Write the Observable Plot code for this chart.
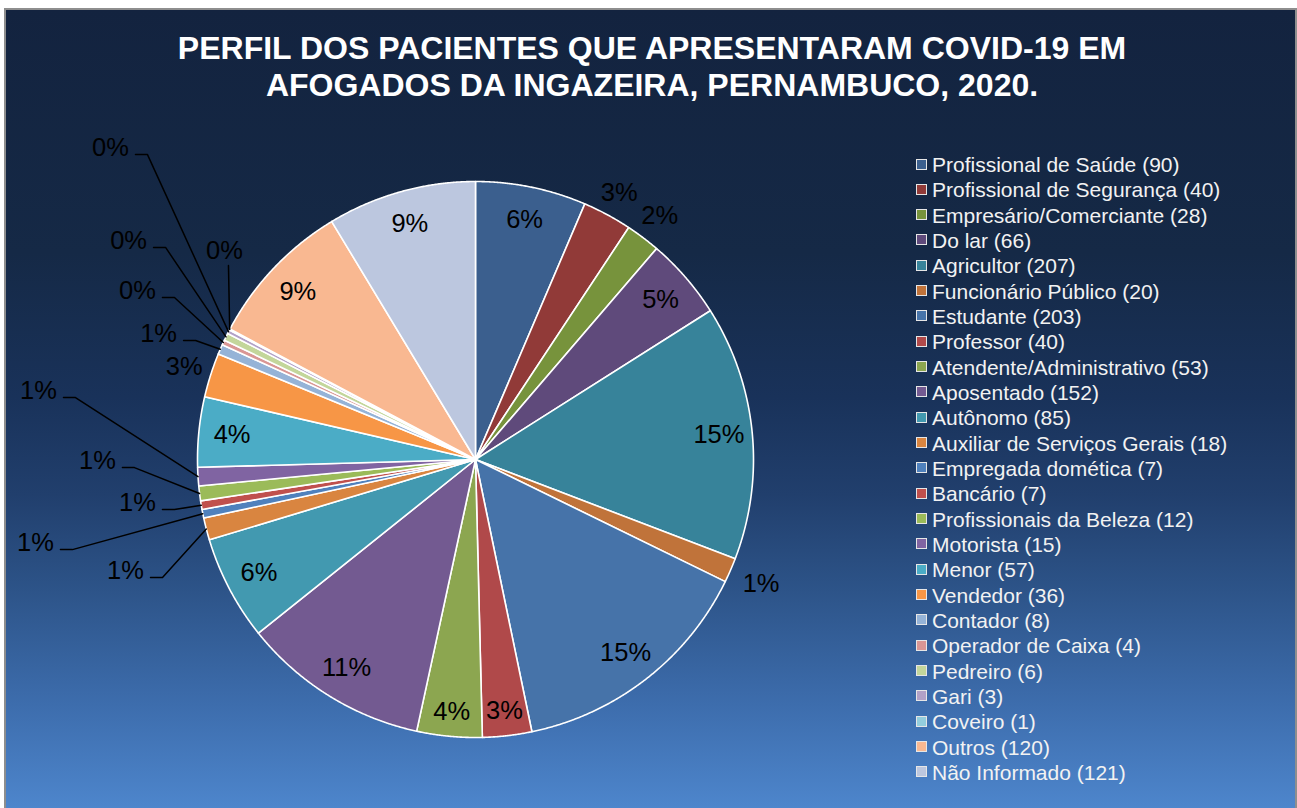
<!DOCTYPE html>
<html>
<head>
<meta charset="utf-8">
<script src="https://cdn.jsdelivr.net/npm/d3@7"></script>
<script src="https://cdn.jsdelivr.net/npm/@observablehq/plot@0.6"></script>
<style>
html, body { margin: 0; padding: 0; overflow: hidden; width: 1297px; height: 808px; background: #ffffff;
  font-family: "Liberation Sans", Arial, sans-serif; }
#frame { position: absolute; left: 4px; top: 8px; width: 1293px; height: 812px; box-sizing: border-box;
  border: 2px solid #8e8e8e;
  background: linear-gradient(to bottom, #13233f 0%, #152946 30%, #19325a 48%, #213f6d 60%, #2d5489 72%, #3d6dad 86%, #4f88cf 100%); }
#title { position: absolute; left: 0; top: 30.3px; width: 1304px; text-align: center; color: #ffffff;
  font-weight: bold; font-size: 32px; line-height: 37px; white-space: nowrap; }
#chart { position: absolute; left: 0; top: 0; }
#legend { position: absolute; left: 916px; top: 152px; color: #f2f2f2; font-size: 21px; }
#legend .row { position: relative; height: 25.33px; line-height: 25.33px; padding-left: 16px; white-space: nowrap; }
#legend .sw { position: absolute; left: 0; top: 6.5px; width: 9px; height: 9px; border: 1px solid #e6e6e6; }
</style>
</head>
<body>
<div id="frame"></div>
<div id="chart"></div>
<div id="title">PERFIL DOS PACIENTES QUE APRESENTARAM COVID-19 EM<br>AFOGADOS DA INGAZEIRA, PERNAMBUCO, 2020.</div>
<div id="legend"></div>
<script>
// ---- Data ----
const categories = [
  "Profissional de Saúde", "Profissional de Segurança", "Empresário/Comerciante", "Do lar",
  "Agricultor", "Funcionário Público", "Estudante", "Professor", "Atendente/Administrativo",
  "Aposentado", "Autônomo", "Auxiliar de Serviços Gerais", "Empregada domética", "Bancário",
  "Profissionais da Beleza", "Motorista", "Menor", "Vendedor", "Contador", "Operador de Caixa",
  "Pedreiro", "Gari", "Coveiro", "Outros", "Não Informado"
];
const counts = [90, 40, 28, 66, 207, 20, 203, 40, 53, 152, 85, 18, 7, 7, 12, 15, 57, 36, 8, 4, 6, 3, 1, 120, 121];

// ---- Styles ----
const palette = [
  "#3b5f8e", "#913a38", "#77933c", "#5f4a7b", "#37839a", "#c0733a",
  "#4673a9", "#b0494a", "#8ca650", "#735a91", "#4299b0", "#d98540",
  "#4f81bd", "#c0504d", "#9bbb59", "#8064a2", "#4bacc6", "#f79646",
  "#95b3d7", "#d99694", "#c3d69b", "#b2a1c7", "#93cddd", "#f9b891", "#bcc7df"
];

// ---- Label layout (in pie-radius units) ----
const R = 278; // pie radius in px (used for small pixel offsets)
const radialLabel = {
  "Profissional de Segurança": 1.09, "Empresário/Comerciante": 1.10, "Funcionário Público": 1.12,
  "Professor": 0.91, "Atendente/Administrativo": 0.91, "Vendedor": 1.10
};
const callouts = {
  "Auxiliar de Serviços Gerais": [-1.259, -0.399],
  "Empregada domética": [-1.583, -0.299],
  "Bancário": [-1.216, -0.155],
  "Profissionais da Beleza": [-1.360, -0.004],
  "Motorista": [-1.572, 0.248],
  "Contador": [-1.140, 0.453],
  "Operador de Caixa": [-1.216, 0.608],
  "Pedreiro": [-1.248, 0.788],
  "Gari": [-1.313, 1.122],
  "Coveiro": [-0.903, 0.752]
};
const verticalCallout = new Set(["Coveiro"]);

// ---- Geometry ----
const total = d3.sum(counts);
const TAU = 2 * Math.PI;
let cum = 0;
const slices = categories.map((cat, i) => {
  const a0 = cum / total * TAU;
  cum += counts[i];
  const a1 = cum / total * TAU;
  return { cat, a0, a1, mid: (a0 + a1) / 2, pct: Math.round(counts[i] / total * 100) + "%" };
});

const slicePts = slices.flatMap(s => {
  const n = Math.max(2, Math.ceil((s.a1 - s.a0) / 0.004));
  const pts = [{ cat: s.cat, x: 0, y: 0 }];
  for (let k = 0; k <= n; k++) {
    const a = s.a0 + (s.a1 - s.a0) * k / n;
    pts.push({ cat: s.cat, x: Math.sin(a), y: Math.cos(a) });
  }
  pts.push({ cat: s.cat, x: 0, y: 0 });
  return pts;
});

const labels = slices.map(s => {
  if (callouts[s.cat]) {
    const [x, y] = callouts[s.cat];
    return { cat: s.cat, x, y, pct: s.pct };
  }
  const r = radialLabel[s.cat] ?? 0.88;
  return { cat: s.cat, x: r * Math.sin(s.mid), y: r * Math.cos(s.mid), pct: s.pct };
});

const leaderPts = slices.filter(s => callouts[s.cat]).flatMap(s => {
  const [lx, ly] = callouts[s.cat];
  const edge = { cat: s.cat, x: Math.sin(s.mid), y: Math.cos(s.mid) };
  if (verticalCallout.has(s.cat)) {
    return [{ cat: s.cat, x: lx + 4 / R, y: ly - 15 / R }, edge];
  }
  return [
    { cat: s.cat, x: lx + 25 / R, y: ly - 7 / R },
    { cat: s.cat, x: lx + 37 / R, y: ly - 7 / R },
    edge
  ];
});

const chart = Plot.plot({
  width: 900,
  height: 808,
  marginLeft: 197, marginRight: 147, marginTop: 181, marginBottom: 71,
  x: { domain: [-1, 1], axis: null },
  y: { domain: [-1, 1], axis: null },
  color: { domain: categories, range: palette },
  style: { background: "transparent", overflow: "visible", fontFamily: "'Liberation Sans', Arial, sans-serif" },
  marks: [
    Plot.line(slicePts, { x: "x", y: "y", z: "cat", fill: "cat", stroke: "white", strokeWidth: 1.6, strokeLinejoin: "round" }),
    Plot.line(leaderPts, { x: "x", y: "y", z: "cat", stroke: "black", strokeWidth: 1.5 }),
    Plot.text(labels, { x: "x", y: "y", text: "pct", fontSize: 25.5, fill: "black" })
  ]
});
document.getElementById("chart").appendChild(chart);

// ---- Legend ----
const legend = document.getElementById("legend");
categories.forEach((c, i) => {
  const row = document.createElement("div");
  row.className = "row";
  const sw = document.createElement("span");
  sw.className = "sw";
  sw.style.background = palette[i];
  row.appendChild(sw);
  row.appendChild(document.createTextNode(`${c} (${counts[i]})`));
  legend.appendChild(row);
});
</script>
</body>
</html>
